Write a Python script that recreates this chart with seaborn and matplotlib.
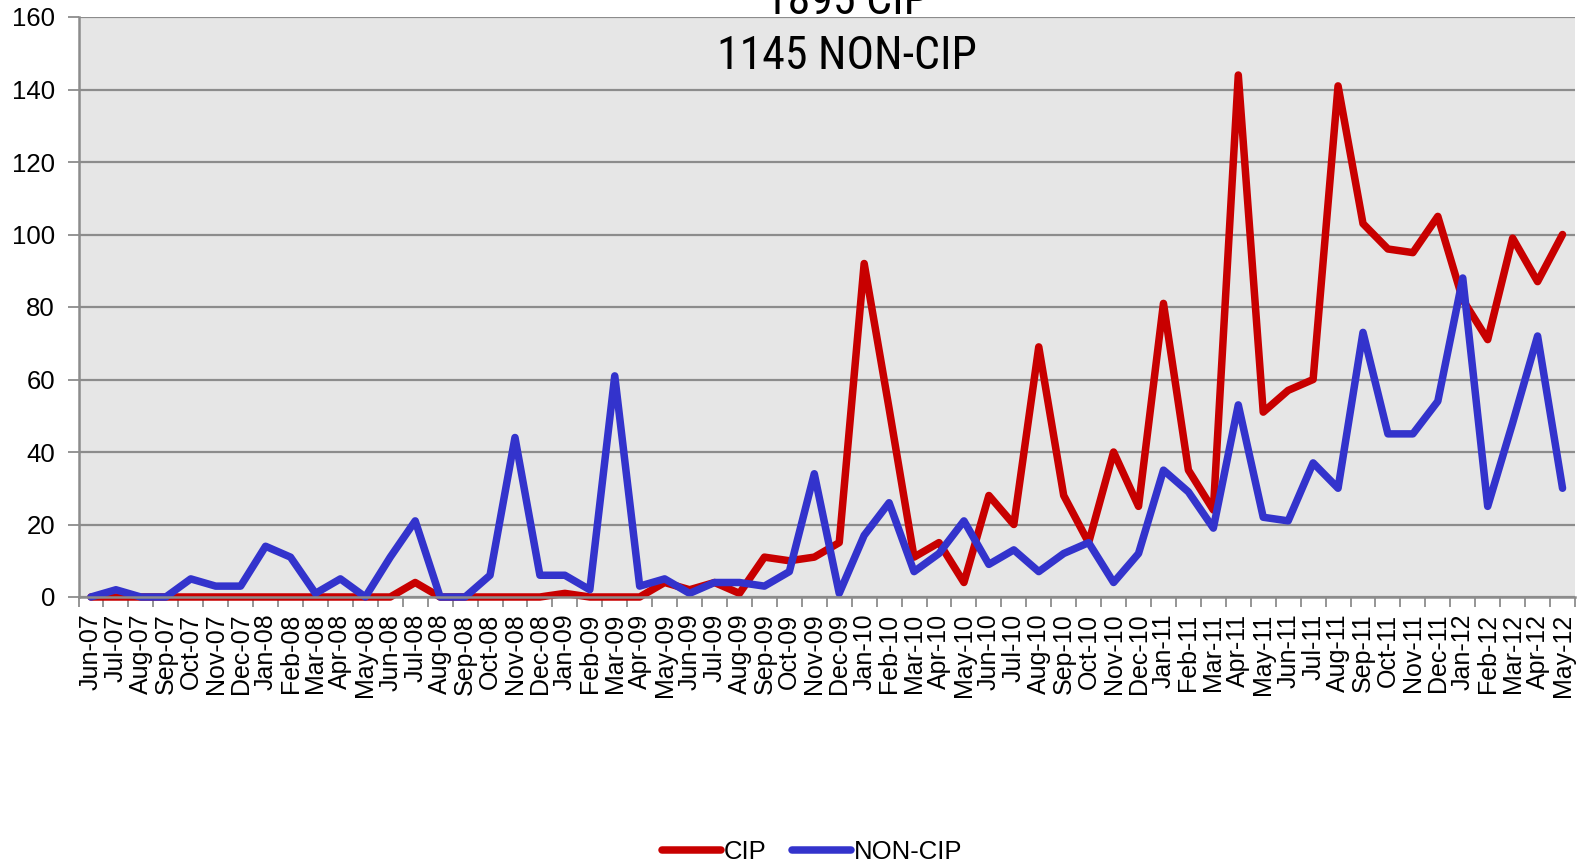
import pandas as pd
import numpy as np
import matplotlib
matplotlib.use("Agg")
import matplotlib.pyplot as plt
from matplotlib import font_manager
from matplotlib.lines import Line2D
import seaborn as sns

# ── Data ─────────────────────────────────────────────
months = ['Jun-07', 'Jul-07', 'Aug-07', 'Sep-07', 'Oct-07', 'Nov-07', 'Dec-07',
          'Jan-08', 'Feb-08', 'Mar-08', 'Apr-08', 'May-08', 'Jun-08', 'Jul-08',
          'Aug-08', 'Sep-08', 'Oct-08', 'Nov-08', 'Dec-08',
          'Jan-09', 'Feb-09', 'Mar-09', 'Apr-09', 'May-09', 'Jun-09', 'Jul-09',
          'Aug-09', 'Sep-09', 'Oct-09', 'Nov-09', 'Dec-09',
          'Jan-10', 'Feb-10', 'Mar-10', 'Apr-10', 'May-10', 'Jun-10', 'Jul-10',
          'Aug-10', 'Sep-10', 'Oct-10', 'Nov-10', 'Dec-10',
          'Jan-11', 'Feb-11', 'Mar-11', 'Apr-11', 'May-11', 'Jun-11', 'Jul-11',
          'Aug-11', 'Sep-11', 'Oct-11', 'Nov-11', 'Dec-11',
          'Jan-12', 'Feb-12', 'Mar-12', 'Apr-12', 'May-12']

cip = [0, 0, 0, 0, 0, 0, 0,
       0, 0, 0, 0, 0, 0, 4,
       0, 0, 0, 0, 0,
       1, 0, 0, 0, 4, 2, 4,
       1, 11, 10, 11, 15,
       92, 52, 11, 15, 4, 28, 20,
       69, 28, 15, 40, 25,
       81, 35, 24, 144, 51, 57, 60,
       141, 103, 96, 95, 105,
       82, 71, 99, 87, 100]

non_cip = [0, 2, 0, 0, 5, 3, 3,
           14, 11, 1, 5, 0, 11, 21,
           0, 0, 6, 44, 6,
           6, 2, 61, 3, 5, 1, 4,
           4, 3, 7, 34, 1,
           17, 26, 7, 12, 21, 9, 13,
           7, 12, 15, 4, 12,
           35, 29, 19, 53, 22, 21, 37,
           30, 73, 45, 45, 54,
           88, 25, 48, 72, 30]

series_names = ['CIP', 'NON-CIP']
series_colors = ['#C80000', '#3333CC']
title_lines = ['1895 CIP', '1145 NON-CIP']

# long-form table for seaborn
df = pd.DataFrame({
    'idx': list(range(len(months))) * 2,
    'value': cip + non_cip,
    'series': [series_names[0]] * len(months) + [series_names[1]] * len(months),
})

# ── Style ────────────────────────────────────────────
sns.set_style('white')
plt.rcParams['font.family'] = ['Liberation Sans', 'DejaVu Sans']
plt.rcParams['text.color'] = 'black'
plt.rcParams['xtick.color'] = 'black'
plt.rcParams['ytick.color'] = 'black'

# narrow font for the title if one is installed
installed = {f.name for f in font_manager.fontManager.ttflist}
if 'Liberation Sans Narrow' in installed:
    title_font, title_size = 'Liberation Sans Narrow', 33
elif 'Roboto Condensed' in installed:
    title_font, title_size = 'Roboto Condensed', 33
else:
    title_font, title_size = 'Roboto', 29

fig = plt.figure(figsize=(15.82, 8.66), dpi=100)
ax = fig.add_axes([78.5 / 1582, 1 - 597 / 866, (1575 - 78.5) / 1582, (597 - 17) / 866])
ax.set_facecolor('#E6E6E6')

sns.lineplot(data=df, x='idx', y='value', hue='series', hue_order=series_names,
             palette=series_colors, linewidth=5.4, ax=ax, legend=False,
             solid_joinstyle='round', solid_capstyle='round')

ax.set_xlim(0, len(months))
ax.set_ylim(0, 160)
for ln in ax.lines:
    ln.set_xdata(np.asarray(ln.get_xdata()) + 0.5)
    ln.set_clip_on(False)

# gridlines
ax.set_yticks(np.arange(0, 161, 20))
ax.yaxis.grid(True, color='#8C8C8C', linewidth=1.6)
ax.set_axisbelow(True)

# x ticks at category boundaries, labels at centres
ax.set_xticks(np.arange(0, len(months) + 1))
ax.set_xticklabels([])
ax.set_xticks(np.arange(len(months)) + 0.5, minor=True)
ax.set_xticklabels(months, minor=True, rotation=90, fontsize=18)
ax.tick_params(axis='x', which='major', length=7, color='#8C8C8C', width=1.3,
               direction='out', bottom=True)
ax.tick_params(axis='x', which='minor', length=0, pad=12, labelcolor='black')
ax.tick_params(axis='y', length=8, color='#8C8C8C', width=1.3, direction='out',
               left=True, labelsize=18.5, pad=9, labelcolor='black')

for side in ['top', 'right']:
    ax.spines[side].set_visible(False)
for side in ['left', 'bottom']:
    ax.spines[side].set_color('#8C8C8C')
    ax.spines[side].set_linewidth(1.8)

ax.set_xlabel('')
ax.set_ylabel('')

# title (top line clipped by the figure edge, as in the original)
fig.text(847 / 1582, 1 - 56 / 866, title_lines[1], ha='center', va='center',
         fontsize=title_size, family=[title_font, 'DejaVu Sans'], color='black')
fig.text(847 / 1582, 1 - 1 / 866, title_lines[0], ha='center', va='center',
         fontsize=title_size, family=[title_font, 'DejaVu Sans'], color='black')

# legend
handles = [Line2D([0], [0], color=c, linewidth=5.4, solid_capstyle='round') for c in series_colors]
fig.legend(handles, series_names, loc='center', bbox_to_anchor=(812 / 1582, 1 - 852 / 866),
           ncol=2, frameon=False, fontsize=18.5, handlelength=2.3, handletextpad=0.1,
           columnspacing=1.0)

plt.savefig('out.png', dpi=100)
